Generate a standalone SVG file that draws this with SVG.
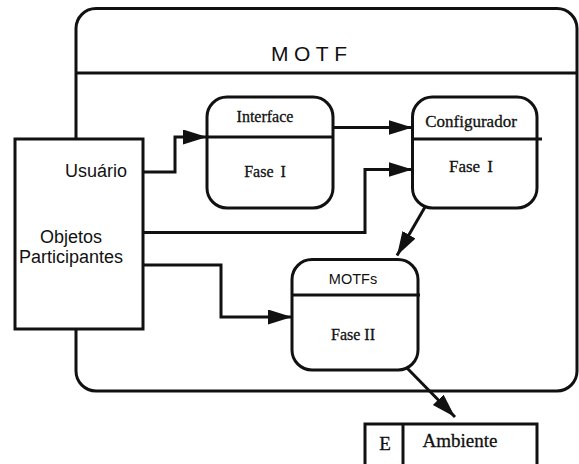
<svg xmlns="http://www.w3.org/2000/svg" width="579" height="464" viewBox="0 0 579 464">
<style>
.box{fill:#fff;stroke:#111;stroke-width:3}
.ln{fill:none;stroke:#111;stroke-width:3}
.conn{fill:none;stroke:#111;stroke-width:3;marker-end:url(#ah)}
.sans{font-family:"Liberation Sans",Arial,sans-serif;fill:#111}
.serif{font-family:"Liberation Serif","Times New Roman",serif;fill:#111;stroke:#111;stroke-width:0.3}
</style>
<defs>
<marker id="ah" markerUnits="userSpaceOnUse" markerWidth="26" markerHeight="18" refX="24" refY="7.5" orient="auto">
<path d="M0,0 L24,7.5 L0,15 z" fill="#111"/>
</marker>
</defs>
<rect width="579" height="464" fill="#fff"/>
<g id="motf">
<rect class="box" x="76" y="8.5" width="501" height="382.5" rx="20"/>
<line class="ln" x1="76" y1="73" x2="578" y2="73"/>
<text class="sans" x="271" y="61" font-size="21" letter-spacing="5.5">MOTF</text>
</g>
<g id="objetos">
<rect class="box" x="15" y="139" width="128" height="190"/>
<text class="sans" x="127" y="177" font-size="18" text-anchor="end">Usuário</text>
<text class="sans" x="71" y="243" font-size="18" text-anchor="middle">Objetos</text>
<text class="sans" x="71" y="263" font-size="18" text-anchor="middle">Participantes</text>
</g>
<g id="interface">
<rect class="box" x="207" y="97" width="126" height="111" rx="20"/>
<line class="ln" x1="207" y1="137" x2="333" y2="137"/>
<text class="serif" x="265" y="122" font-size="16" text-anchor="middle">Interface</text>
<text class="serif" x="265" y="177" font-size="16" text-anchor="middle" word-spacing="3">Fase I</text>
</g>
<g id="configurador">
<rect class="box" x="412.5" y="97" width="124.5" height="111" rx="20"/>
<line class="ln" x1="412.5" y1="139" x2="542" y2="139"/>
<text class="serif" x="471" y="127" font-size="17" text-anchor="middle">Configurador</text>
<text class="serif" x="471" y="172" font-size="17" text-anchor="middle" word-spacing="3">Fase I</text>
</g>
<g id="motfs">
<rect class="box" x="292" y="259.5" width="126" height="110.5" rx="20"/>
<line class="ln" x1="292" y1="295" x2="420" y2="295"/>
<text class="sans" x="353" y="283.5" font-size="14.5" text-anchor="middle">MOTFs</text>
<text class="serif" x="353" y="340" font-size="16" text-anchor="middle">Fase II</text>
</g>
<g id="ambiente">
<rect class="box" x="365" y="424" width="172" height="50"/>
<line class="ln" x1="403" y1="424" x2="403" y2="470"/>
<text class="serif" x="385" y="450" font-size="19" text-anchor="middle">E</text>
<text class="serif" x="460" y="447" font-size="19" text-anchor="middle">Ambiente</text>
</g>
<g id="connectors">
<path class="conn" d="M143,172 H175 V137 H207"/>
<path class="conn" d="M143,232.5 H365 V169.5 H412.5"/>
<path class="conn" d="M143,265 H221 V317 H292"/>
<path class="conn" d="M333,127.5 H412.5"/>
<path class="conn" d="M425,207 L397,255.5"/>
<path class="conn" d="M407,368 L455,417"/>
</g>
</svg>
